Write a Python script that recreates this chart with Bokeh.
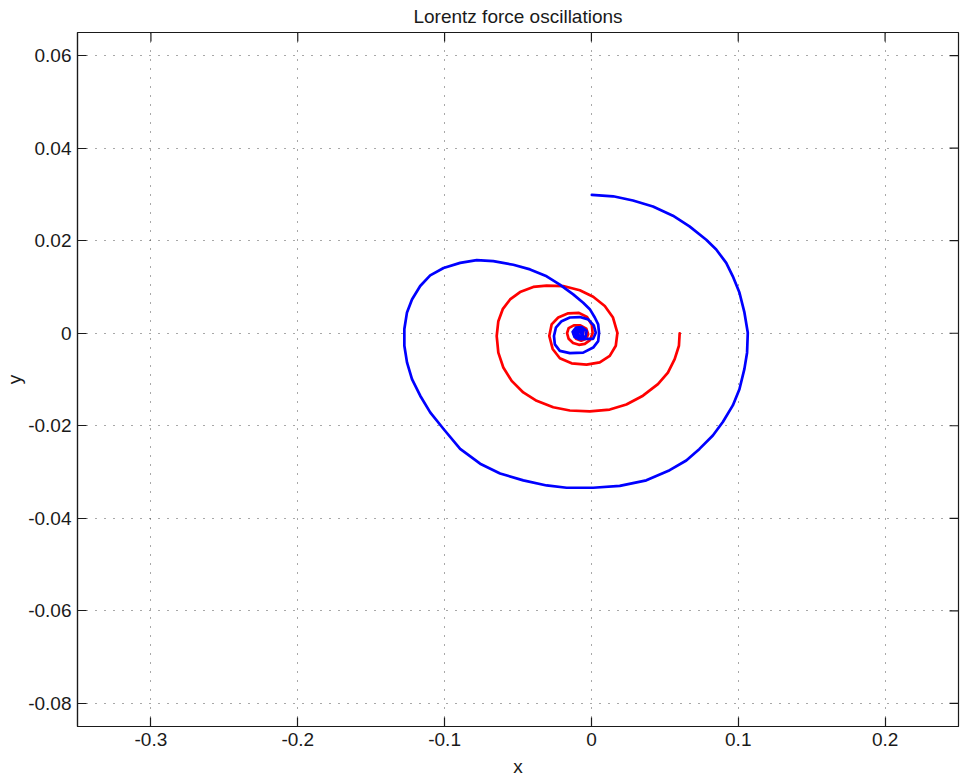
import math
from bokeh.plotting import figure
from bokeh.models import Range1d, FixedTicker
from bokeh.embed import file_html
from bokeh.resources import INLINE

# ---- data ----
blue_x = [0.0003, 0.0148, 0.0283, 0.0419, 0.0555, 0.0668, 0.0782, 0.0850, 0.0918, 0.0963,
          0.1008, 0.1042, 0.1065, 0.1060, 0.1042, 0.1008, 0.0963, 0.0895, 0.0827, 0.0736,
          0.0646, 0.0533, 0.0374, 0.0193, 0.0012, -0.0169, -0.0305, -0.0464, -0.0622, -0.0758,
          -0.0894, -0.1007, -0.1098, -0.1166, -0.1222, -0.1256, -0.1274, -0.1274, -0.1256, -0.1222,
          -0.1166, -0.1098, -0.1007, -0.0894, -0.0781, -0.0668, -0.0532, -0.0418, -0.0305, -0.0215,
          -0.0124, -0.0056, -0.0011, 0.0023, 0.0046, 0.0052,
          0.0046, 0.0012, -0.0056, -0.0147, -0.0215, -0.0249, -0.0255, -0.0242, -0.0203, -0.0147,
          -0.0079, -0.0022, 0.0016, 0.0030, 0.0012,
          -0.0040, -0.0080, -0.0115, -0.0128, -0.0105, -0.0065, -0.0033, -0.0038, -0.0070, -0.0105,
          -0.0112, -0.0085, -0.0055, -0.0060, -0.0085, -0.0097, -0.0078, -0.0070]
blue_y = [0.0299, 0.0296, 0.0287, 0.0274, 0.0254, 0.0231, 0.0202, 0.0181, 0.0152, 0.0123,
          0.0088, 0.0045, 0.0001, -0.0042, -0.0077, -0.0121, -0.0156, -0.0192, -0.0221, -0.0250,
          -0.0275, -0.0296, -0.0318, -0.0330, -0.0334, -0.0334, -0.0329, -0.0318, -0.0303, -0.0282,
          -0.0250, -0.0207, -0.0171, -0.0135, -0.0099, -0.0063, -0.0027, 0.0009, 0.0045, 0.0073,
          0.0102, 0.0125, 0.0141, 0.0152, 0.0158, 0.0156, 0.0148, 0.0138, 0.0123, 0.0105,
          0.0084, 0.0066, 0.0052, 0.0034, 0.0019, 0.0001,
          -0.0017, -0.0031, -0.0042, -0.0043, -0.0038, -0.0024, -0.0006, 0.0012, 0.0026, 0.0034,
          0.0035, 0.0030, 0.0017, 0.0001, -0.0012,
          -0.0012, -0.0013, -0.0008, 0.0003, 0.0012, 0.0013, 0.0005, -0.0006, -0.0010, -0.0004,
          0.0004, 0.0009, 0.0004, -0.0004, -0.0005, 0.0001, 0.0003, 0.0000]

red_x = [0.0601, 0.0596, 0.0567, 0.0521, 0.0453, 0.0351, 0.0238, 0.0125, -0.0011, -0.0147,
         -0.0260, -0.0373, -0.0464, -0.0543, -0.0600, -0.0634, -0.0645, -0.0634, -0.0604, -0.0554,
         -0.0486, -0.0396, -0.0305, -0.0192, -0.0079, 0.0012, 0.0091, 0.0147, 0.0177, 0.0166,
         0.0125, 0.0057, -0.0033, -0.0135, -0.0215, -0.0264, -0.0287, -0.0271, -0.0226,
         -0.0158, -0.0085, -0.0030, 0.0003, 0.0008, -0.0010, -0.0045, -0.0085, -0.0125, -0.0155,
         -0.0166, -0.0155, -0.0120, -0.0075, -0.0035, -0.0022, -0.0035, -0.0070, -0.0105, -0.0120,
         -0.0108, -0.0078, -0.0055, -0.0058, -0.0080, -0.0095, -0.0082]
red_y = [0.0000, -0.0027, -0.0056, -0.0085, -0.0110, -0.0135, -0.0154, -0.0165, -0.0169, -0.0167,
         -0.0160, -0.0146, -0.0128, -0.0103, -0.0074, -0.0042, -0.0006, 0.0026, 0.0052, 0.0073,
         0.0089, 0.0100, 0.0103, 0.0102, 0.0093, 0.0079, 0.0059, 0.0034, 0.0001, -0.0027,
         -0.0049, -0.0063, -0.0068, -0.0065, -0.0054, -0.0034, -0.0006, 0.0019, 0.0034,
         0.0043, 0.0044, 0.0035, 0.0018, 0.0000, -0.0015, -0.0023, -0.0025, -0.0021, -0.0012,
         0.0000, 0.0011, 0.0017, 0.0017, 0.0010, -0.0002, -0.0012, -0.0016, -0.0012, -0.0002,
         0.0008, 0.0011, 0.0005, -0.0005, -0.0008, -0.0002, 0.0003]

x_ticks = [-0.3, -0.2, -0.1, 0.0, 0.1, 0.2]
x_tick_labels = ["-0.3", "-0.2", "-0.1", "0", "0.1", "0.2"]
y_ticks = [-0.08, -0.06, -0.04, -0.02, 0.0, 0.02, 0.04, 0.06]
y_tick_labels = ["-0.08", "-0.06", "-0.04", "-0.02", "0", "0.02", "0.04", "0.06"]
x_limits = (-0.35, 0.25)
y_limits = (-0.085, 0.065)

title_text = "Lorentz force oscillations"
x_label = "x"
y_label = "y"

FONT = "Liberation Sans"
INK = "#1a1a1a"

p = figure(width=960, height=779, output_backend="svg", toolbar_location=None,
           x_range=Range1d(*x_limits), y_range=Range1d(*y_limits),
           title=title_text, min_border_left=77, min_border_right=2,
           min_border_top=32, min_border_bottom=50)

p.title.align = "center"
p.title.vertical_align = "top"
p.title.text_font = FONT
p.title.text_font_size = "19px"
p.title.text_font_style = "normal"
p.title.text_color = INK
p.title.standoff = 8

p.outline_line_color = INK
p.outline_line_width = 1.2
p.background_fill_color = "white"
p.border_fill_color = "white"

def style_axis(ax, ticks, labels, axis_label):
    ax.ticker = FixedTicker(ticks=ticks)
    ax.major_label_overrides = {t: l for t, l in zip(ticks, labels)}
    ax.major_tick_in = 9
    ax.major_tick_out = 0
    ax.major_tick_line_color = INK
    ax.major_tick_line_width = 1.2
    ax.minor_tick_line_color = None
    ax.axis_line_color = INK
    ax.axis_line_width = 1.2
    ax.major_label_text_font = FONT
    ax.major_label_text_color = INK
    ax.major_label_text_font_size = "19px"
    ax.axis_label = axis_label
    ax.axis_label_text_font = FONT
    ax.axis_label_text_font_size = "19px"
    ax.axis_label_text_font_style = "normal"
    ax.axis_label_text_color = INK

xa = p.xaxis[0]
style_axis(xa, x_ticks, x_tick_labels, x_label)
xa.major_label_standoff = 6
xa.axis_label_standoff = 7

ya = p.yaxis[0]
style_axis(ya, y_ticks, y_tick_labels, y_label)
ya.major_label_standoff = 6
ya.axis_label_standoff = 0

# inward tick marks on the top and right edges (MATLAB box style)
p.scatter(x_ticks, [y_limits[1]] * len(x_ticks), marker="dash", angle=math.pi / 2,
          size=18, line_color=INK, line_width=1.2)
p.scatter([x_limits[1]] * len(y_ticks), y_ticks, marker="dash", angle=0,
          size=18, line_color=INK, line_width=1.2)

p.xgrid.ticker = FixedTicker(ticks=x_ticks)
p.ygrid.ticker = FixedTicker(ticks=y_ticks)
for g in (p.xgrid[0], p.ygrid[0]):
    g.grid_line_color = "#333333"
    g.grid_line_alpha = 0.85
    g.grid_line_width = 1
    g.grid_line_dash = "1 8"

p.line(red_x, red_y, line_color="#FF0000", line_width=2.7, line_join="round", line_cap="round")
p.line(blue_x, blue_y, line_color="#0000FF", line_width=2.7, line_join="round", line_cap="round")

open("out.html", "w").write(file_html(p, INLINE))
